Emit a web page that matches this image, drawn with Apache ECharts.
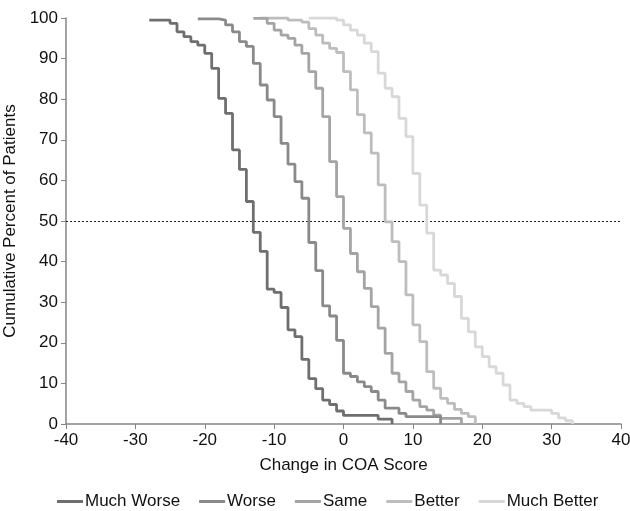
<!DOCTYPE html>
<html>
<head>
<meta charset="utf-8">
<script src="https://cdn.jsdelivr.net/npm/echarts@6/dist/echarts.min.js"></script>
<style>
  html, body { margin: 0; padding: 0; background: #fff; }
  #chart { width: 630px; height: 511px; }
</style>
</head>
<body>
<div id="chart"></div>
<script>
// [change in score, cumulative percent] -- value held from x until the next x
const muchWorse = [[-28, 99.5], [-25, 98.7], [-24, 96.6], [-23, 95.4], [-22, 94.2], [-21, 93.3], [-20, 91.3],
  [-19, 87.6], [-18, 80.2], [-17, 76.5], [-16, 67.5], [-15, 62.7], [-14, 54.8], [-13, 47.2], [-12, 42.5],
  [-11, 33.2], [-10, 32.4], [-9, 28.7], [-8, 23.2], [-7, 21.5], [-6, 15.9], [-5, 11.2], [-4, 8.7],
  [-3, 5.9], [-2, 4.8], [-1, 3.2], [0, 2.1], [5, 1.2], [7, 0]];
const worse = [[-21, 99.8], [-18, 99.5], [-17, 98.3], [-16, 96.6], [-15, 94.2], [-14, 93.0], [-13, 88.8],
  [-12, 83.5], [-11, 79.8], [-10, 75.7], [-9, 69.1], [-8, 64.0], [-7, 59.7], [-6, 55.6], [-5, 44.7],
  [-4, 37.8], [-3, 29.1], [-2, 26.6], [-1, 20.6], [0, 12.5], [1, 11.7], [2, 10.4], [3, 9.2], [4, 8.0],
  [5, 5.9], [6, 3.9], [8, 2.6], [9, 1.8], [14, 0]];
const same = [[-13, 99.9], [-11, 98.7], [-10, 97.0], [-9, 95.8], [-8, 95.0], [-7, 93.3], [-6, 91.3],
  [-5, 86.8], [-4, 82.7], [-3, 75.7], [-2, 64.6], [-1, 56.0], [0, 48.2], [1, 42.0], [2, 37.5], [3, 33.4],
  [4, 28.9], [5, 23.6], [6, 17.4], [7, 12.5], [8, 10.4], [9, 8.0], [10, 5.9], [11, 4.3], [12, 3.4],
  [13, 2.2], [14, 1.4], [17, 0]];
const better = [[-12, 100], [-8, 99.5], [-6, 99.0], [-5, 97.4], [-4, 95.8], [-3, 93.8], [-2, 92.5],
  [-1, 91.5], [0, 86.8], [1, 82.3], [2, 76.2], [3, 71.7], [4, 66.7], [5, 58.9], [6, 49.8], [7, 44.9],
  [8, 40.0], [9, 31.8], [10, 24.4], [11, 20.3], [12, 12.9], [13, 8.8], [14, 6.3], [15, 5.1], [16, 3.6],
  [17, 2.6], [18, 1.8], [19, 0]];
const muchBetter = [[-5, 100], [-1, 99.5], [0, 98.3], [1, 97.0], [2, 95.8], [3, 93.8], [4, 91.7],
  [5, 86.4], [6, 82.7], [7, 80.6], [8, 75.3], [9, 70.8], [10, 61.7], [11, 53.9], [12, 47.0], [13, 37.9],
  [14, 36.7], [15, 34.6], [16, 31.4], [17, 26.0], [18, 22.7], [19, 19.0], [20, 16.6], [21, 14.1],
  [22, 12.5], [23, 9.6], [24, 5.9], [25, 5.1], [26, 4.3], [27, 3.4], [30, 2.6], [31, 1.5], [32, 0.8], [33, 0]];

const groupNames = ['Much Worse', 'Worse', 'Same', 'Better', 'Much Better'];
const groupData = [muchWorse, worse, same, better, muchBetter];
const groupColors = ['#6f6f6f', '#8a8a8a', '#a4a4a4', '#bdbdbd', '#d8d8d8'];
const refLine = 50;

const font = '"Liberation Sans", Arial, sans-serif';
const axisColor = '#868686';

let chart = echarts.init(document.getElementById('chart'));

let series = groupNames.map((name, i) => ({
  name: name,
  type: 'line',
  step: 'end',
  data: groupData[i],
  symbol: 'none',
  z: 10 - i,
  lineStyle: { color: groupColors[i], width: 2.8 },
  itemStyle: { color: groupColors[i] }
}));

series[0].markLine = {
  silent: true,
  symbol: 'none',
  label: { show: false },
  lineStyle: { color: '#222', type: [2, 2], width: 1 },
  data: [{ yAxis: refLine }]
};

chart.setOption({
  animation: false,
  textStyle: { fontFamily: font },
  grid: { left: 66, right: 9, top: 18, bottom: 87, outerBoundsMode: 'none' },
  xAxis: {
    type: 'value',
    min: -40, max: 40, interval: 10,
    name: 'Change in COA Score',
    nameLocation: 'middle',
    nameGap: 33,
    nameTextStyle: { fontSize: 17, color: '#111', fontFamily: font },
    axisLine: { onZero: false, lineStyle: { color: axisColor, width: 1.5 } },
    axisTick: { show: true, length: 5, lineStyle: { color: axisColor } },
    axisLabel: { fontSize: 17, color: '#111', margin: 8, fontFamily: font },
    splitLine: { show: false }
  },
  yAxis: {
    type: 'value',
    min: 0, max: 100, interval: 10,
    name: 'Cumulative Percent of Patients',
    nameLocation: 'middle',
    nameGap: 39,
    nameTextStyle: { fontSize: 17, color: '#111', fontFamily: font },
    axisLine: { show: true, onZero: false, lineStyle: { color: axisColor, width: 1.5 } },
    axisTick: { show: true, length: 5, lineStyle: { color: axisColor } },
    axisLabel: { fontSize: 17, color: '#111', margin: 8, fontFamily: font },
    splitLine: { show: false }
  },
  legend: {
    data: groupNames,
    top: 488,
    left: 52,
    icon: 'rect',
    itemWidth: 26,
    itemHeight: 3,
    itemGap: 19,
    textStyle: { fontSize: 17, color: '#111', fontFamily: font, padding: [0, 0, 0, -3] }
  },
  series: series
});
</script>
</body>
</html>
